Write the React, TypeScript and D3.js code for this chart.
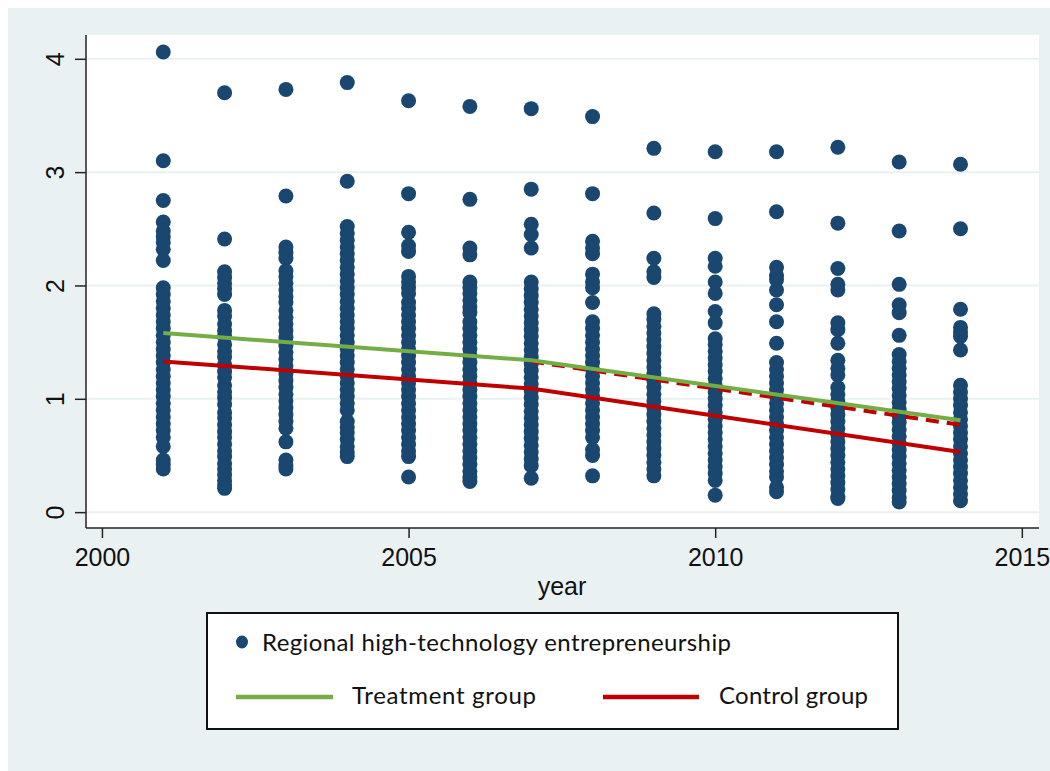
import React, { useEffect, useRef } from "react";
import * as d3 from "d3";

// scatter values, one list per year
const years = [2001, 2002, 2003, 2004, 2005, 2006, 2007, 2008, 2009, 2010, 2011, 2012, 2013, 2014];

const y2001 = [4.06, 3.10, 2.75, 2.56, 2.48, 2.43, 2.38, 2.32, 2.22, 1.98, 1.92, 1.86, 1.80, 1.74, 1.68, 1.62, 1.56, 1.50, 1.44, 1.38, 1.32, 1.26, 1.20, 1.14, 1.08, 1.02, 0.96, 0.90, 0.84, 0.78, 0.72, 0.66, 0.58, 0.46, 0.42, 0.38];
const y2002 = [3.70, 2.41, 2.12, 2.07, 2.02, 1.97, 1.92, 1.78, 1.73, 1.66, 1.60, 1.55, 1.48, 1.42, 1.37, 1.30, 1.24, 1.19, 1.12, 1.06, 1.01, 0.95, 0.88, 0.83, 0.77, 0.71, 0.66, 0.60, 0.54, 0.49, 0.43, 0.38, 0.33, 0.28, 0.24, 0.21];
const y2003 = [3.73, 2.79, 2.34, 2.29, 2.24, 2.13, 2.08, 2.02, 1.96, 1.90, 1.85, 1.78, 1.72, 1.66, 1.60, 1.54, 1.47, 1.41, 1.35, 1.29, 1.22, 1.16, 1.10, 1.04, 0.98, 0.92, 0.86, 0.80, 0.74, 0.62, 0.46, 0.41, 0.38];
const y2004 = [3.79, 2.92, 2.52, 2.46, 2.40, 2.34, 2.28, 2.22, 2.16, 2.10, 2.04, 1.98, 1.92, 1.86, 1.80, 1.74, 1.68, 1.62, 1.56, 1.50, 1.44, 1.38, 1.32, 1.26, 1.20, 1.14, 1.08, 1.02, 0.96, 0.90, 0.80, 0.75, 0.70, 0.64, 0.58, 0.53, 0.49];
const y2005 = [3.63, 2.81, 2.47, 2.35, 2.30, 2.08, 2.03, 1.98, 1.93, 1.85, 1.80, 1.74, 1.68, 1.62, 1.56, 1.50, 1.44, 1.38, 1.32, 1.26, 1.20, 1.14, 1.08, 1.02, 0.96, 0.90, 0.84, 0.78, 0.72, 0.66, 0.60, 0.54, 0.49, 0.31];
const y2006 = [3.58, 2.76, 2.33, 2.27, 2.03, 1.98, 1.93, 1.87, 1.81, 1.76, 1.68, 1.62, 1.56, 1.50, 1.44, 1.38, 1.32, 1.26, 1.20, 1.14, 1.08, 1.02, 0.96, 0.90, 0.84, 0.78, 0.72, 0.66, 0.60, 0.54, 0.48, 0.42, 0.36, 0.31, 0.27];
const y2007 = [3.56, 2.85, 2.54, 2.45, 2.33, 2.03, 1.97, 1.91, 1.85, 1.79, 1.73, 1.67, 1.61, 1.55, 1.49, 1.43, 1.37, 1.31, 1.25, 1.19, 1.13, 1.07, 1.01, 0.95, 0.89, 0.83, 0.77, 0.71, 0.65, 0.59, 0.53, 0.47, 0.41, 0.30];
const y2008 = [3.49, 2.81, 2.39, 2.33, 2.28, 2.10, 2.03, 1.98, 1.85, 1.68, 1.62, 1.56, 1.50, 1.44, 1.38, 1.32, 1.26, 1.20, 1.14, 1.08, 1.02, 0.96, 0.90, 0.84, 0.78, 0.72, 0.66, 0.55, 0.50, 0.32];
const y2009 = [3.21, 2.64, 2.24, 2.12, 2.07, 1.75, 1.70, 1.64, 1.58, 1.52, 1.46, 1.40, 1.34, 1.28, 1.22, 1.16, 1.10, 1.04, 0.98, 0.92, 0.86, 0.80, 0.74, 0.68, 0.62, 0.56, 0.50, 0.44, 0.38, 0.32];
const y2010 = [3.18, 2.59, 2.24, 2.17, 2.03, 1.93, 1.77, 1.67, 1.53, 1.48, 1.42, 1.36, 1.30, 1.24, 1.18, 1.12, 1.06, 1.00, 0.94, 0.88, 0.82, 0.76, 0.70, 0.64, 0.58, 0.52, 0.46, 0.40, 0.34, 0.28, 0.15];
const y2011 = [3.18, 2.65, 2.16, 2.09, 2.05, 1.96, 1.83, 1.68, 1.49, 1.32, 1.26, 1.20, 1.14, 1.08, 1.02, 0.96, 0.90, 0.84, 0.78, 0.72, 0.66, 0.60, 0.54, 0.48, 0.42, 0.36, 0.31, 0.22, 0.18];
const y2012 = [3.22, 2.55, 2.15, 2.01, 1.96, 1.67, 1.61, 1.49, 1.34, 1.27, 1.21, 1.10, 1.04, 0.98, 0.92, 0.86, 0.80, 0.74, 0.68, 0.62, 0.56, 0.50, 0.44, 0.38, 0.32, 0.26, 0.20, 0.14, 0.12];
const y2013 = [3.09, 2.48, 2.01, 1.83, 1.76, 1.56, 1.39, 1.33, 1.27, 1.21, 1.15, 1.09, 1.03, 0.97, 0.91, 0.85, 0.79, 0.73, 0.67, 0.61, 0.55, 0.49, 0.43, 0.37, 0.31, 0.25, 0.19, 0.13, 0.09];
const y2014 = [3.07, 2.50, 1.79, 1.63, 1.59, 1.55, 1.43, 1.12, 1.06, 1.00, 0.94, 0.88, 0.82, 0.76, 0.70, 0.64, 0.58, 0.52, 0.46, 0.40, 0.34, 0.28, 0.22, 0.16, 0.10];

const columns = [y2001, y2002, y2003, y2004, y2005, y2006, y2007, y2008, y2009, y2010, y2011, y2012, y2013, y2014];

// fitted lines
const treatYears = [2001, 2007, 2014];
const treatValues = [1.58, 1.34, 0.81];
const controlYears = [2001, 2007, 2014];
const controlValues = [1.33, 1.09, 0.53];
const counterYears = [2007, 2014];
const counterValues = [1.33, 0.77];

const xTicks = [2000, 2005, 2010, 2015];
const yTicks = [0, 1, 2, 3, 4];

const legendTop = "Regional high-technology entrepreneurship";
const legendTreat = "Treatment group";
const legendControl = "Control group";

export default function App() {
  const ref = useRef<SVGSVGElement>(null);

  useEffect(() => {
    const svg = d3.select(ref.current);
    svg.selectAll("*").remove();

    const bg = "#eaf1f3";
    const navy = "#1a476f";
    const green = "#74ad46";
    const red = "#c00000";
    const axisFont = "'Liberation Sans', Arial, sans-serif";
    const legFont = "Lato, 'Open Sans', sans-serif";

    // svg sits at the page origin, so these are page coordinates
    const g = svg.append("g");

    g.append("rect").attr("width", 1050).attr("height", 771).attr("fill", "white");
    g.append("rect").attr("x", 8).attr("y", 8).attr("width", 1042).attr("height", 763).attr("fill", bg);

    const left = 86, right = 1039, top = 35, bottom = 528;
    const x = d3.scaleLinear().domain([1999.74, 2015.28]).range([left, right]);
    const y = d3.scaleLinear().domain([-0.14, 4.21]).range([bottom, top]);

    g.append("rect")
      .attr("x", left).attr("y", top)
      .attr("width", right - left).attr("height", bottom - top)
      .attr("fill", "white");

    // grid
    g.append("g")
      .selectAll("line")
      .data(yTicks)
      .join("line")
      .attr("x1", left).attr("x2", right)
      .attr("y1", d => y(d)).attr("y2", d => y(d))
      .attr("stroke", bg)
      .attr("stroke-width", 2);

    // dots
    const points: { year: number; v: number }[] = [];
    columns.forEach((col, i) => col.forEach(v => points.push({ year: years[i], v })));
    g.append("g")
      .selectAll("circle")
      .data(points)
      .join("circle")
      .attr("cx", d => x(d.year))
      .attr("cy", d => y(d.v))
      .attr("r", 7.5)
      .attr("fill", navy);

    const line = d3.line<[number, number]>().x(d => x(d[0])).y(d => y(d[1]));
    const zip = (a: number[], b: number[]) => a.map((v, i) => [v, b[i]] as [number, number]);

    g.append("path")
      .attr("d", line(zip(counterYears, counterValues)))
      .attr("fill", "none").attr("stroke", red).attr("stroke-width", 4)
      .attr("stroke-dasharray", "13,8");
    g.append("path")
      .attr("d", line(zip(controlYears, controlValues)))
      .attr("fill", "none").attr("stroke", red).attr("stroke-width", 4);
    g.append("path")
      .attr("d", line(zip(treatYears, treatValues)))
      .attr("fill", "none").attr("stroke", green).attr("stroke-width", 4);

    // axes
    const yAxis = g.append("g").attr("transform", `translate(${left},0)`)
      .call(d3.axisLeft(y).tickValues(yTicks).tickSize(11).tickPadding(0).tickFormat(d3.format("d")));
    yAxis.select(".domain").attr("d", `M0,${top}V${bottom}`).attr("stroke", "#222").attr("stroke-width", 1.5);
    yAxis.selectAll(".tick line").attr("stroke", "#222").attr("stroke-width", 1.5);
    yAxis.selectAll(".tick text")
      .attr("font-family", axisFont).attr("font-size", 25).attr("fill", "#111")
      .attr("x", 0).attr("dy", null).attr("text-anchor", "middle")
      .attr("transform", "translate(-22,0) rotate(-90)");

    const xAxis = g.append("g").attr("transform", `translate(0,${bottom})`)
      .call(d3.axisBottom(x).tickValues(xTicks).tickSize(10).tickPadding(10).tickFormat(d3.format("d")));
    xAxis.select(".domain").attr("d", `M${left},0H${right}`).attr("stroke", "#222").attr("stroke-width", 1.5);
    xAxis.selectAll(".tick line").attr("stroke", "#222").attr("stroke-width", 1.5);
    xAxis.selectAll(".tick text")
      .attr("font-family", axisFont).attr("font-size", 25).attr("fill", "#111");

    g.append("text")
      .attr("x", 562).attr("y", 595)
      .attr("text-anchor", "middle")
      .attr("font-family", axisFont).attr("font-size", 25).attr("fill", "#111")
      .text("year");

    // legend
    const leg = g.append("g");
    leg.append("rect")
      .attr("x", 207).attr("y", 613).attr("width", 691).attr("height", 116)
      .attr("fill", "white").attr("stroke", "#111").attr("stroke-width", 2);
    leg.append("ellipse").attr("cx", 242).attr("cy", 642).attr("rx", 6).attr("ry", 6.5).attr("fill", navy);
    leg.append("text").attr("x", 262).attr("y", 651)
      .attr("font-family", legFont).attr("font-size", 24).attr("fill", "#111")
      .attr("textLength", 469).attr("lengthAdjust", "spacing")
      .text(legendTop);
    leg.append("line").attr("x1", 236).attr("x2", 333).attr("y1", 697).attr("y2", 697)
      .attr("stroke", green).attr("stroke-width", 4.5);
    leg.append("text").attr("x", 352).attr("y", 704)
      .attr("font-family", legFont).attr("font-size", 24).attr("fill", "#111")
      .attr("textLength", 184).attr("lengthAdjust", "spacing")
      .text(legendTreat);
    leg.append("line").attr("x1", 603).attr("x2", 699).attr("y1", 697).attr("y2", 697)
      .attr("stroke", red).attr("stroke-width", 4.5);
    leg.append("text").attr("x", 719).attr("y", 704)
      .attr("font-family", legFont).attr("font-size", 24).attr("fill", "#111")
      .attr("textLength", 149).attr("lengthAdjust", "spacing")
      .text(legendControl);
  }, []);

  return (
    <svg ref={ref} width={1050} height={771}
      style={{ display: "block", position: "absolute", left: 0, top: 0 }}></svg>
  );
}
